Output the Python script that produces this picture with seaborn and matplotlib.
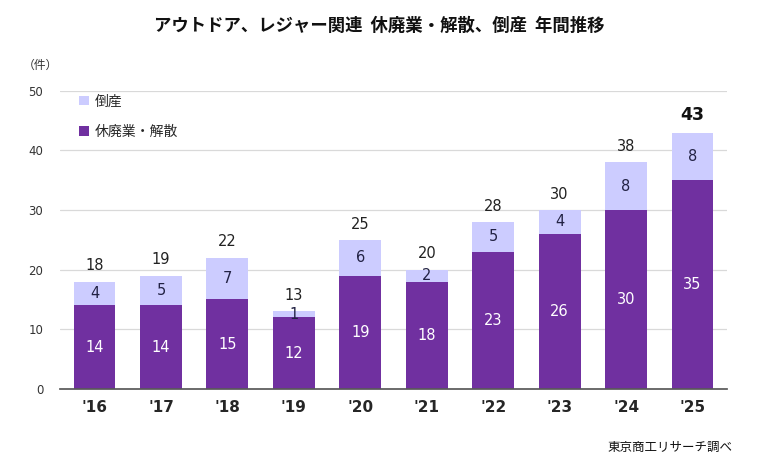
import matplotlib
matplotlib.use("Agg")
import matplotlib.pyplot as plt
import seaborn as sns
import pandas as pd

years = ["'16", "'17", "'18", "'19", "'20", "'21", "'22", "'23", "'24", "'25"]
closures = [14, 14, 15, 12, 19, 18, 23, 26, 30, 35]
bankrupt = [4, 5, 7, 1, 6, 2, 5, 4, 8, 8]
totals = [c + b for c, b in zip(closures, bankrupt)]

DARK = "#7030A0"
LIGHT = "#CCCCFF"

sns.set_theme(style="white")
plt.rcParams['font.family'] = ['Noto Sans CJK JP', 'DejaVu Sans']
NUM = ["DejaVu Sans"]

df = pd.DataFrame({"year": years, "closures": closures, "bankrupt": bankrupt, "total": totals})

fig = plt.figure(figsize=(7.59, 4.68), dpi=100)
ax = fig.add_axes([0.079, 0.169, 0.879, 0.637])

sns.barplot(data=df, x="year", y="total", color=LIGHT, width=0.63, ax=ax,
            saturation=1, label="倒産", linewidth=0)
sns.barplot(data=df, x="year", y="closures", color=DARK, width=0.63, ax=ax,
            saturation=1, label="休廃業・解散", linewidth=0)

ax.set_ylim(0, 50)
ax.set_yticks(range(0, 51, 10))
ax.set_xlim(-0.52, 9.52)
ax.yaxis.grid(True, color="#D9D9D9", linewidth=0.9)
ax.set_axisbelow(True)
for s in ["left", "right", "top"]:
    ax.spines[s].set_visible(False)
ax.spines["bottom"].set_color("#595959")
ax.set_xlabel("")
ax.set_ylabel("")
ax.tick_params(axis="y", length=0, labelsize=8.5, colors="#333333", pad=12)
ax.tick_params(axis="x", length=0, pad=8)
for lbl in ax.get_yticklabels():
    lbl.set_family(NUM)
for lbl in ax.get_xticklabels():
    lbl.set_fontweight("bold")
    lbl.set_fontsize(11)
    lbl.set_family(NUM)

for i, (c, b, t) in enumerate(zip(closures, bankrupt, totals)):
    ax.text(i, c / 2, str(c), ha="center", va="center", color="white", fontsize=10.5, family=NUM)
    ax.text(i, c + b / 2, str(b), ha="center", va="center", color="#222244", fontsize=10.5, family=NUM)
    if i == len(years) - 1:
        ax.text(i, t + 1.4, str(t), ha="center", va="bottom", color="#111111",
                fontsize=12.5, fontweight="bold", family=NUM)
    else:
        ax.text(i, t + 1.4, str(t), ha="center", va="bottom", color="#222222", fontsize=10.5, family=NUM)

handles, labels = ax.get_legend_handles_labels()
leg = ax.legend(handles, labels, loc="upper left", bbox_to_anchor=(0.01, 1.03),
                frameon=False, fontsize=10, handlelength=0.7, handleheight=0.7,
                labelspacing=1.2, handletextpad=0.4)

fig.text(0.5, 0.945, "アウトドア、レジャー関連  休廃業・解散、倒産  年間推移",
         ha="center", va="center", fontsize=12.5, fontweight="bold", color="#111111")
fig.text(0.03, 0.86, "（件）", ha="left", va="center", fontsize=8.5, color="#333333")
fig.text(0.965, 0.045, "東京商工リサーチ調べ", ha="right", va="center", fontsize=9,
         color="#111111")

fig.savefig("out.png", dpi=100)
